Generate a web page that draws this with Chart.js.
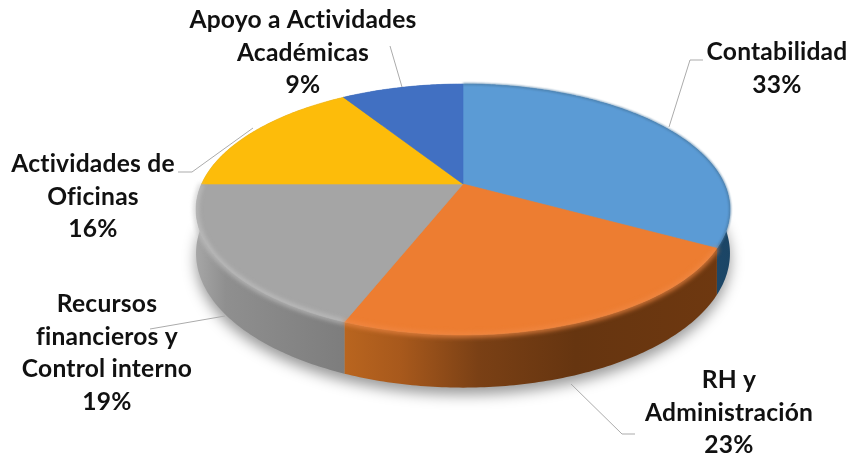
<!DOCTYPE html>
<html>
<head>
<meta charset="utf-8">
<style>
  html, body { margin: 0; background: #ffffff; }
  canvas { display: block; filter: blur(0.4px); }
</style>
<script src="https://cdn.jsdelivr.net/npm/chart.js@4/dist/chart.umd.min.js"></script>
</head>
<body>
<canvas id="pie" width="851" height="461"></canvas>
<script>
const categories = [
  "Contabilidad",
  "RH y Administración",
  "Recursos financieros y Control interno",
  "Actividades de Oficinas",
  "Apoyo a Actividades Académicas"
];
const shares = [33, 23, 19, 16, 9];

const topColors = ["#5B9BD5", "#ED7D31", "#A5A5A5", "#FDBC0A", "#4170C2"];
const wallStops = [
  [[0, "#336a9a"], [1, "#1b4565"]],
  [[0, "#b9651f"], [0.15, "#a8591c"], [0.36, "#7a4015"], [0.62, "#663510"], [1, "#6e3810"]],
  [[0, "#a6a6a6"], [0.2, "#8f8f8f"], [1, "#7d7d7d"]],
  [[0, "#8f8f8f"], [1, "#8f8f8f"]],
  [[0, "#2f5597"], [1, "#2f5597"]]
];
const bevels = [
  { color: "#46779f", width: 1.5, blur: 1 },
  { color: "#f08844", width: 4, blur: 2.5 },
  { color: "#c4c4c4", width: 3.5, blur: 2.5 }
];

// label blocks: centre x, first baseline, one entry per line
const labelBlocks = [
  { x: 777, y: 60, lines: ["Contabilidad", "33%"] },
  { x: 729, y: 388, lines: ["RH y", "Administración", "23%"] },
  { x: 107, y: 312, lines: ["Recursos", "financieros y", "Control interno", "19%"] },
  { x: 93, y: 172, lines: ["Actividades de", "Oficinas", "16%"] },
  { x: 303, y: 28, lines: ["Apoyo a Actividades", "Académicas", "9%"] }
];
const leaders = [
  [[703, 60], [690, 60], [669, 127]],
  [[571, 384], [622, 434], [635, 434]],
  [[150, 329], [225, 316]],
  [[178, 172], [192, 172], [253, 128]],
  [[390, 46], [402, 87]]
];

// perspective of the disc on screen
const view = { cx: 463, cy: 184, rx: 261.4, ry: 120.3, tilt: 0.203, depth: 42 };

function project(angle, lowered) {
  const dx = Math.cos(angle);
  const dy = Math.sin(angle);
  const w = 1 - view.tilt * dy;
  return {
    x: view.cx + view.rx * dx / w,
    y: view.cy + view.ry * dy / w + (lowered ? view.depth / w : 0)
  };
}

function rimPoints(start, end, lowered) {
  const steps = Math.max(2, Math.ceil((end - start) / (Math.PI / 240)));
  const points = [];
  for (let i = 0; i <= steps; i++) {
    points.push(project(start + (end - start) * i / steps, lowered));
  }
  return points;
}

function tracePoints(ctx, points) {
  points.forEach((p) => ctx.lineTo(p.x, p.y));
}

const tiltedPie = {
  id: "tiltedPie",
  beforeDatasetsDraw(chart) {
    const ctx = chart.ctx;
    const arcs = chart.getDatasetMeta(0).data;
    const first = arcs[0].startAngle;

    // soft shadow under the whole disc
    ctx.save();
    ctx.filter = "blur(7px)";
    ctx.fillStyle = "rgba(0, 0, 0, 0.4)";
    ctx.translate(0, 7);
    ctx.beginPath();
    tracePoints(ctx, rimPoints(first, first + Math.PI * 2, true));
    ctx.closePath();
    ctx.fill();
    ctx.restore();

    // side walls
    arcs.forEach((arc, i) => {
      const top = rimPoints(arc.startAngle, arc.endAngle, false);
      const bottom = rimPoints(arc.startAngle, arc.endAngle, true);
      const xs = top.map((p) => p.x);
      const gradient = ctx.createLinearGradient(Math.min(...xs), 0, Math.max(...xs), 0);
      wallStops[i].forEach((stop) => gradient.addColorStop(stop[0], stop[1]));
      ctx.fillStyle = gradient;
      ctx.beginPath();
      tracePoints(ctx, top);
      tracePoints(ctx, bottom.reverse());
      ctx.closePath();
      ctx.fill();
    });

    // top face
    arcs.forEach((arc, i) => {
      ctx.fillStyle = topColors[i];
      ctx.strokeStyle = topColors[i];
      ctx.lineWidth = 0.6;
      ctx.beginPath();
      ctx.moveTo(view.cx, view.cy);
      tracePoints(ctx, rimPoints(arc.startAngle, arc.endAngle, false));
      ctx.closePath();
      ctx.fill();
      ctx.stroke();
    });

    // rounded edge of the rim, only on slices that show a wall
    ctx.save();
    bevels.forEach((bevel, i) => {
      const arc = arcs[i];
      ctx.filter = `blur(${bevel.blur}px)`;
      ctx.lineWidth = bevel.width;
      ctx.strokeStyle = bevel.color;
      ctx.beginPath();
      const rim = rimPoints(arc.startAngle, arc.endAngle, false);
      ctx.moveTo(rim[0].x, rim[0].y);
      tracePoints(ctx, rim);
      ctx.stroke();
    });
    ctx.restore();

    return false;
  },
  afterDraw(chart) {
    const ctx = chart.ctx;

    ctx.strokeStyle = "#ababab";
    ctx.lineWidth = 1;
    leaders.forEach((line) => {
      ctx.beginPath();
      line.forEach((p, i) => (i ? ctx.lineTo(p[0], p[1]) : ctx.moveTo(p[0], p[1])));
      ctx.stroke();
    });

    ctx.fillStyle = "#111111";
    ctx.font = "bold 24.6px Lato";
    ctx.letterSpacing = "0.2px";
    ctx.textAlign = "center";
    ctx.textBaseline = "alphabetic";
    labelBlocks.forEach((block) => {
      block.lines.forEach((text, i) => ctx.fillText(text, block.x, block.y + i * 32.7));
    });
  }
};

new Chart(document.querySelector("#pie"), {
  type: "pie",
  data: {
    labels: categories,
    datasets: [{ data: shares, backgroundColor: topColors, borderWidth: 0 }]
  },
  options: {
    responsive: false,
    animation: false,
    events: [],
    plugins: {
      legend: { display: false },
      tooltip: { enabled: false }
    }
  },
  plugins: [tiltedPie]
});
</script>
</body>
</html>
